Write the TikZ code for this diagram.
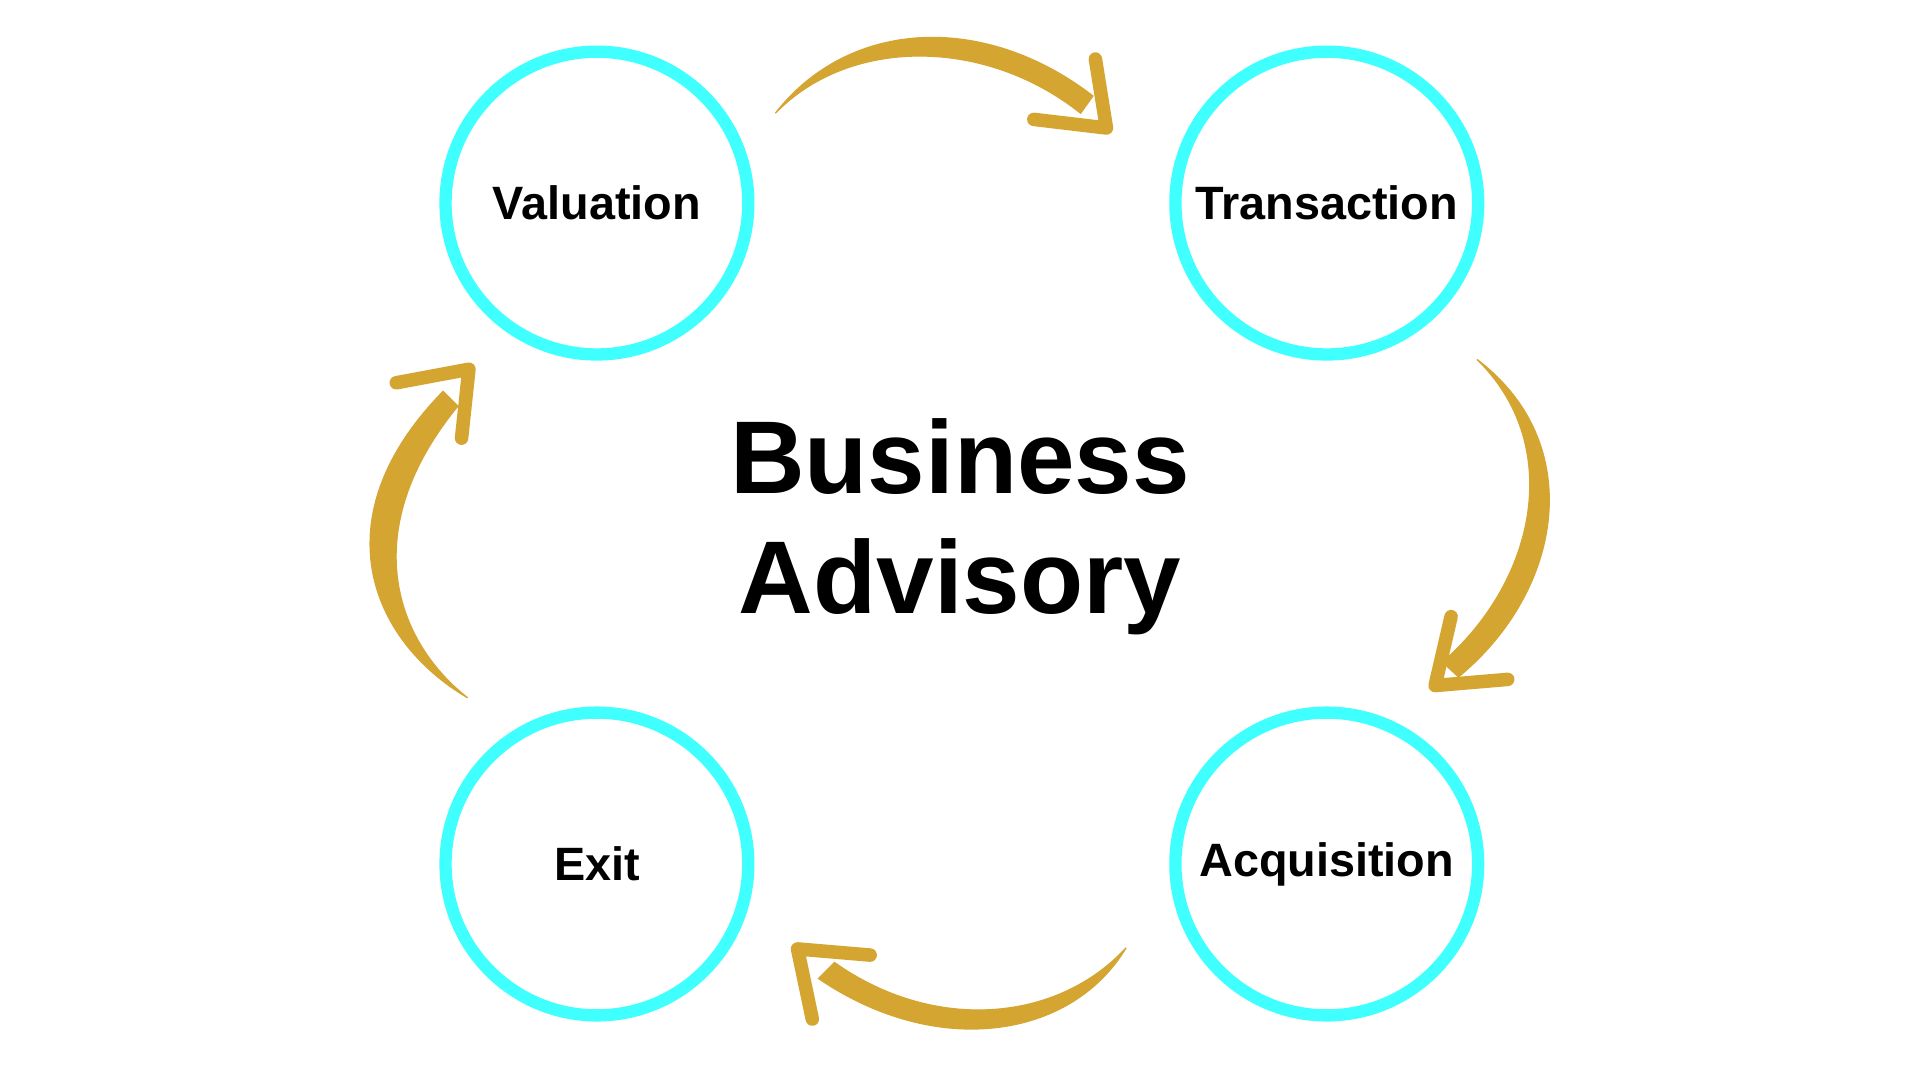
\documentclass[tikz,border=0pt]{standalone}
\usepackage{fontspec}
\setmainfont{Liberation Sans}
\begin{document}
\begin{tikzpicture}[x=1pt,y=-1pt,
  ring/.style={draw=cyanring,line width=10pt,circle,minimum size=246pt,inner sep=0pt,font=\fontsize{38}{40}\selectfont\bfseries},
  crescent/.style={fill=gold,draw=gold,line width=1pt},
  head/.style={draw=gold,line width=11pt,line cap=round,line join=round}]
\definecolor{cyanring}{HTML}{40FFFF}
\definecolor{gold}{HTML}{D5A532}
\useasboundingbox[fill=white] (0,0) rectangle (1560,877.5);
\node[ring] (val) at (485,165) {Valuation};
\node[ring] (tra) at (1078,165) {Transaction};
\node[ring] (exi) at (485,702) {Exit};
\node[ring] (acq) at (1078,702) {Acquisition};
\node[font=\fontsize{84}{98}\selectfont\bfseries,align=center] (title) at (780,428) {Business\\Advisory};
% top arrow
\coordinate (t0) at (630,92);
\fill[crescent] (t0) .. controls (690,15) and (800,10) .. (888,78) -- (878,92) .. controls (800,30) and (690,30) .. (t0);
\draw[head] (890,48) -- (899,104) -- (840,97);
% right arrow
\coordinate (r0) at (1200,292);
\fill[crescent] (r0) .. controls (1290,360) and (1270,480) .. (1185,550) -- (1172,538) .. controls (1250,470) and (1270,360) .. (r0);
\draw[head] (1179,501) -- (1166,557) -- (1225,552);
% bottom arrow
\coordinate (b0) at (915,770);
\fill[crescent] (b0) .. controls (870,845) and (760,860) .. (665,795) -- (678,782) .. controls (760,840) and (860,830) .. (b0);
\draw[head] (660,828) -- (648,771) -- (707,776);
% left arrow
\coordinate (l0) at (380,567);
\fill[crescent] (l0) .. controls (300,520) and (260,420) .. (360,318) -- (372,330) .. controls (290,430) and (320,520) .. (l0);
\draw[head] (375,356) -- (381,300) -- (322,311);
\end{tikzpicture}
\end{document}
